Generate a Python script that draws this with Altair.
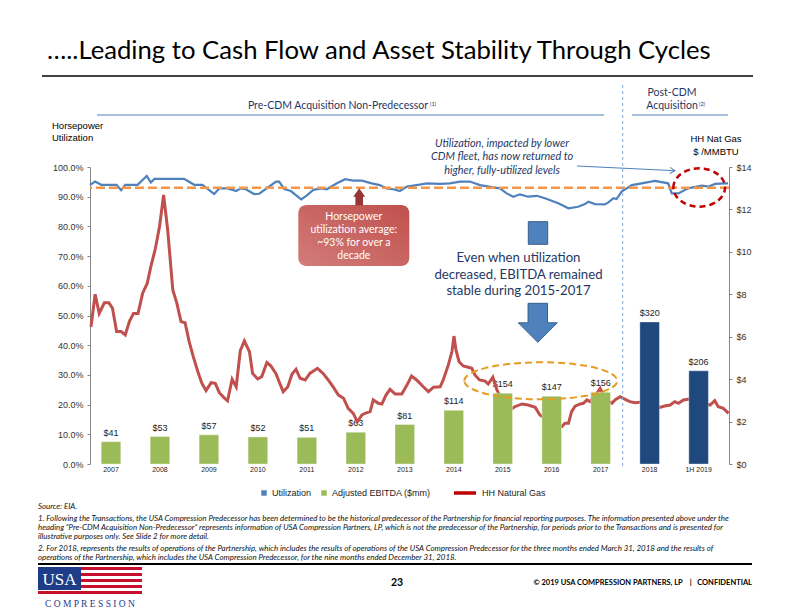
import altair as alt
import pandas as pd

# ---------------- data ----------------
years = ["2007", "2008", "2009", "2010", "2011", "2012", "2013", "2014",
         "2015", "2016", "2017", "2018", "1H 2019"]
ebitda = [41, 53, 57, 52, 51, 63, 81, 114, 154, 147, 156, 320, 206]
period = ["pre"] * 11 + ["post"] * 2

util_t = [2007.00, 2007.10, 2007.22, 2007.52, 2007.61, 2007.69, 2007.93,
          2008.11, 2008.19, 2008.26, 2008.84,
          2009.04, 2009.20, 2009.43, 2009.53, 2009.69, 2009.86, 2009.95,
          2010.05, 2010.21, 2010.31, 2010.48, 2010.64, 2010.70, 2010.80, 2010.93,
          2011.13, 2011.23, 2011.37, 2011.53, 2011.63, 2011.83, 2011.99,
          2012.15, 2012.32, 2012.51, 2012.67, 2012.80, 2012.93,
          2013.06, 2013.20, 2013.39, 2013.59, 2013.85,
          2014.04, 2014.24, 2014.43, 2014.63, 2014.86,
          2015.02, 2015.15, 2015.28, 2015.41, 2015.57, 2015.74, 2015.90,
          2016.16, 2016.36, 2016.55, 2016.68, 2016.75, 2016.88,
          2017.07, 2017.14, 2017.24, 2017.30, 2017.40, 2017.60, 2017.79,
          2018.05, 2018.31, 2018.38, 2018.51, 2018.70, 2018.97,
          2019.10, 2019.23, 2019.42, 2019.48]
util_v = [94.0, 95.1, 94.0, 94.0, 92.2, 94.0, 94.0,
          97.0, 94.8, 96.0, 96.0,
          94.0, 94.0, 90.9, 92.8, 92.8, 91.9, 92.8,
          92.5, 90.9, 91.0, 93.1, 95.1, 95.1, 92.6, 91.9,
          89.1, 90.3, 92.3, 92.8, 92.5, 94.5, 95.9,
          95.4, 95.4, 94.5, 93.9, 92.8, 92.5,
          91.9, 93.4, 93.9, 94.5, 94.3,
          94.5, 95.1, 95.1, 93.9, 93.2,
          92.8, 91.1, 90.0, 90.8, 90.0, 90.3, 89.5,
          87.8, 86.1, 86.6, 87.5, 88.3, 87.5,
          87.4, 88.1, 89.5, 89.2, 91.7, 93.9, 94.5,
          95.3, 94.5, 91.1, 91.1, 92.8, 93.7,
          93.4, 94.3, 94.5, 94.5]

gas_t = [2007.02, 2007.10, 2007.18, 2007.28, 2007.37, 2007.44, 2007.52, 2007.61,
         2007.69, 2007.77, 2007.85, 2007.94,
         2008.03, 2008.12, 2008.19, 2008.28, 2008.36, 2008.44, 2008.52, 2008.62,
         2008.70, 2008.78, 2008.86, 2008.94,
         2009.02, 2009.11, 2009.19, 2009.27, 2009.37, 2009.45, 2009.53, 2009.62,
         2009.69, 2009.78, 2009.86, 2009.94,
         2010.02, 2010.12, 2010.18, 2010.28, 2010.36, 2010.46, 2010.54, 2010.64,
         2010.70, 2010.78, 2010.87, 2010.95,
         2011.03, 2011.11, 2011.21, 2011.30, 2011.45, 2011.56, 2011.66, 2011.76,
         2011.86, 2011.96,
         2012.05, 2012.15, 2012.23, 2012.32, 2012.38, 2012.48, 2012.54, 2012.64,
         2012.71, 2012.79, 2012.87, 2012.97,
         2013.10, 2013.20, 2013.29, 2013.39, 2013.52, 2013.62, 2013.72, 2013.85,
         2013.91,
         2014.01, 2014.08, 2014.12, 2014.16, 2014.22, 2014.30, 2014.40, 2014.47,
         2014.53, 2014.62, 2014.73, 2014.79, 2014.88, 2014.96,
         2015.02, 2015.12, 2015.22, 2015.31, 2015.45, 2015.57, 2015.71, 2015.80,
         2016.00, 2016.12, 2016.23, 2016.29, 2016.36, 2016.42, 2016.49, 2016.59,
         2016.65, 2016.72, 2016.78, 2016.88, 2016.98,
         2017.07, 2017.21, 2017.27, 2017.37, 2017.47, 2017.56, 2017.66, 2017.90,
         2018.05, 2018.15, 2018.24, 2018.35, 2018.44, 2018.51, 2018.61, 2018.70,
         2018.89,
         2019.02, 2019.13, 2019.22, 2019.29, 2019.39, 2019.49]
gas_v = [6.47, 8.00, 7.10, 7.60, 7.60, 7.34, 6.24, 6.24,
         6.08, 6.71, 7.10, 7.10,
         8.05, 8.52, 9.30, 10.17, 11.19, 12.68, 11.03, 8.20,
         7.57, 6.71, 6.66, 5.77,
         5.06, 4.35, 3.80, 3.46, 3.83, 3.80, 3.36, 3.13,
         2.98, 3.99, 3.64, 5.34,
         5.80, 5.29, 4.27, 4.01, 4.12, 4.78, 4.62, 4.24,
         3.88, 3.41, 3.64, 4.23,
         4.46, 4.04, 3.96, 4.27, 4.51, 4.27, 3.96, 3.62,
         3.25, 3.10,
         2.62, 2.39, 1.99, 2.31, 2.39, 2.47, 3.02, 2.86,
         2.83, 3.25, 3.52, 3.30,
         3.30, 3.72, 4.15, 3.96, 3.64, 3.41, 3.62, 3.64,
         3.96,
         4.67, 5.29, 6.03, 5.37, 4.82, 4.62, 4.56, 4.51,
         4.20, 3.96, 3.91, 3.77, 4.09, 3.49,
         3.21, 2.94, 2.55, 2.70, 2.83, 2.78, 2.67, 2.31,
         2.00, 1.80, 1.76, 1.92, 1.92, 2.47, 2.73, 2.83,
         2.86, 3.02, 2.94, 3.20, 3.57,
         3.10, 2.86, 3.02, 3.17, 3.05, 2.94, 2.89, 2.95,
         2.75, 2.67, 2.73, 2.78, 2.94, 2.86, 3.02, 3.05,
         3.10,
         2.85, 2.78, 2.99, 2.70, 2.62, 2.39]

util_avg = 93

footnotes = [
    "Source: EIA.",
    "1.  Following the Transactions, the USA Compression Predecessor has been determined to be the historical predecessor of the Partnership for financial reporting purposes. The information presented above under the",
    "heading \u201cPre-CDM Acquisition Non-Predecessor\u201d represents information of USA Compression Partners, LP, which is not the predecessor of the Partnership, for periods prior to the Transactions and is presented for",
    "illustrative purposes only. See Slide 2 for more detail.",
    "2.  For 2018, represents the results of operations of the Partnership, which includes the results of operations of the USA Compression Predecessor for the three months ended March 31, 2018 and the results of",
    "operations of the Partnership, which includes the USA Compression Predecessor, for the nine months ended December 31, 2018.",
]

# ---------------- layout helpers ----------------
OX, OY = 90, 167          # absolute position of plot origin on the page
W, H = 639, 297
one = alt.Data(values=[{"k": 0}])
CAL = "Lato"
ARIAL = "Liberation Sans"
NAVY = "#1F3864"
NB = "\u00a0"


def px(X):
    return X - OX


def py(Y):
    return Y - OY


def text(s, X, Y, size, color="#000000", font=CAL, align="center",
         weight="normal", style="normal", lh=None, baseline="middle"):
    kw = dict(text=s, align=align, baseline=baseline, fontSize=size, font=font,
              color=color, fontWeight=weight, fontStyle=style)
    if lh:
        kw["lineHeight"] = lh
    return alt.Chart(one).mark_text(**kw).encode(x=alt.value(px(X)), y=alt.value(py(Y)))


def seg(X1, Y1, X2, Y2, color, width, dash=None):
    kw = dict(color=color, strokeWidth=width)
    if dash:
        kw["strokeDash"] = dash
    return alt.Chart(one).mark_rule(**kw).encode(
        x=alt.value(px(X1)), y=alt.value(py(Y1)),
        x2=alt.value(px(X2)), y2=alt.value(py(Y2)))


def box(X1, Y1, X2, Y2, color, stroke=None, radius=0, sw=1):
    kw = dict(color=color, cornerRadius=radius, opacity=1)
    if stroke:
        kw["stroke"] = stroke
        kw["strokeWidth"] = sw
    return alt.Chart(one).mark_rect(**kw).encode(
        x=alt.value(px(X1)), x2=alt.value(px(X2)),
        y=alt.value(py(Y1)), y2=alt.value(py(Y2)))


def symbol(path, X, Y, size, fill=None, stroke=None, sw=1, dash=None, angle=0):
    kw = dict(shape=path, size=size, opacity=1, angle=angle)
    if fill:
        kw["filled"] = True
        kw["fill"] = fill
    else:
        kw["filled"] = False
        kw["fill"] = "transparent"
    if stroke:
        kw["stroke"] = stroke
        kw["strokeWidth"] = sw
    if dash:
        kw["strokeDash"] = dash
    return alt.Chart(one).mark_point(**kw).encode(x=alt.value(px(X)), y=alt.value(py(Y)))


# ---------------- chart layers ----------------
bars_df = pd.DataFrame({"year": years, "ebitda": ebitda, "period": period})
util_df = pd.DataFrame({"t": util_t, "u": util_v})
gas_df = pd.DataFrame({"t": gas_t, "g": gas_v})

band = alt.Scale(range=[px(86.5), px(723.1)], paddingInner=0.6, paddingOuter=0.3)
yb_scale = alt.Scale(domain=[-11, 681], nice=False, zero=False)
xt = alt.X("t:Q", scale=alt.Scale(domain=[2007, 2019.5], nice=False, zero=False), axis=None)

bar_labels = alt.Chart(bars_df).transform_calculate(
    label="'$' + datum.ebitda"
).mark_text(dy=-9, fontSize=9, font=ARIAL, color="#222222").encode(
    x=alt.X("year:N", sort=years, scale=band, axis=None),
    y=alt.Y("ebitda:Q", scale=yb_scale, axis=None),
    text="label:N",
)

gas = alt.Chart(gas_df).mark_line(color="#C0504D", strokeWidth=3).encode(
    x=xt,
    y=alt.Y("g:Q", scale=alt.Scale(domain=[0, 14], nice=False),
            axis=alt.Axis(orient="right", values=list(range(0, 15, 2)),
                          labelExpr="'$' + datum.value", title=None, grid=False,
                          domainColor="#868686", tickColor="#868686", tickSize=3,
                          labelFont=ARIAL, labelFontSize=9, labelColor="#333333",
                          labelPadding=4)),
)

bars = alt.Chart(bars_df).mark_bar(stroke="#FFFFFF", strokeOpacity=0.35, strokeWidth=1).encode(
    x=alt.X("year:N", sort=years, scale=band,
            axis=alt.Axis(orient="bottom", title=None, domain=False, ticks=False,
                          labelAngle=0, labelFont=ARIAL, labelFontSize=7,
                          labelColor="#222222", labelPadding=1)),
    y=alt.Y("ebitda:Q", scale=yb_scale, axis=None),
    y2=alt.datum(-11),
    color=alt.Color("period:N", scale=alt.Scale(domain=["pre", "post"],
                                                range=["#9BBB59", "#1F497D"]), legend=None),
)

util = alt.Chart(util_df).mark_line(color="#4F81BD", strokeWidth=2.2).encode(
    x=xt,
    y=alt.Y("u:Q", scale=alt.Scale(domain=[0, 100], nice=False),
            axis=alt.Axis(orient="left", values=list(range(0, 101, 10)),
                          labelExpr="format(datum.value, '.1f') + '%'", title=None,
                          grid=False, domainColor="#868686", tickColor="#868686",
                          tickSize=3, labelFont=ARIAL, labelFontSize=9,
                          labelColor="#333333", labelPadding=4)),
)

avg = alt.Chart(one).mark_rule(color="#F79646", strokeWidth=2.5, strokeDash=[9, 4]).encode(
    y=alt.Y(datum=util_avg, scale=alt.Scale(domain=[0, 100], nice=False), axis=None)
)

# ---------------- annotations ----------------
ann = []
# title + rule
ann.append(text("\u2026..Leading to Cash Flow and Asset Stability Through Cycles",
                47, 51, 25.7, align="left"))
ann.append(seg(42, 76, 753, 76, "#404040", 2))

# period headers
ann.append(text("Pre-CDM Acquisition Non-Predecessor", 338, 106, 10.5, color=NAVY))
ann.append(text("(1)", 433, 104, 5.5, color=NAVY))
ann.append(seg(97, 115, 604, 115, "#4F81BD", 1))
ann.append(text(["Post-CDM", "Acquisition"], 672, 92.5, 10.5, color=NAVY, lh=13))
ann.append(text("(2)", 702, 104, 5.5, color=NAVY))
ann.append(seg(632, 115, 728, 115, "#4F81BD", 1))
ann.append(seg(622.7, 85, 622.7, 466, "#7FA7D6", 1, dash=[3, 3]))

# axis titles
ann.append(text(["Horsepower", "Utilization"], 52, 125.7, 9.5, font=ARIAL, align="left", lh=12.6))
ann.append(text(["HH Nat Gas", "$ /MMBTU"], 716, 139, 9.5, font=ARIAL, lh=12.7))

# italic note + arrow
ann.append(text(["Utilization, impacted by lower", "CDM fleet, has now returned to",
                 "higher, fully-utilized levels"], 502, 143.5, 10.9, color=NAVY,
                style="italic", lh=13.7))
ann.append(seg(577, 166, 675, 170.7, "#4F81BD", 1))
ann.append(symbol("M -1 -0.6 L 0 0 L -1 0.6", 675, 170.7, 100, stroke="#4F81BD", sw=1, angle=3))

# red dashed ellipse
ann.append(symbol("M -1 0 A 1 0.74 0 1 1 1 0 A 1 0.74 0 1 1 -1 0 Z", 699.2, 187.5, 2673,
                  stroke="#C00000", sw=2.5, dash=[6, 4]))
# orange dashed ellipse
ann.append(symbol("M -1 0 A 1 0.242 0 1 1 1 0 A 1 0.242 0 1 1 -1 0 Z", 540.8, 380.8, 23409,
                  stroke="#E69B22", sw=2, dash=[7, 4]))

# red rounded box with up arrow
grad = alt.Gradient(gradient="linear",
                    stops=[alt.GradientStop(color="#D27C79", offset=0),
                           alt.GradientStop(color="#C0504D", offset=1)],
                    x1=0, x2=1, y1=1, y2=0)
ann.append(box(298.3, 205, 409.3, 266, grad, radius=8))
ann.append(text(["Horsepower", "utilization average:", "~93% for over a", "decade"],
                353.8, 216.7, 10.5, color="#FFFFFF", lh=13.1))
ann.append(symbol("M 0 -1 L 0.7 0 L 0.45 0 L 0.45 1 L -0.45 1 L -0.45 0 L -0.7 0 Z",
                  359.2, 196.7, 289, fill="#953735"))

# blue block + down arrow + message
ann.append(box(528.3, 221.7, 547.7, 244.3, "#4F81BD", stroke="#385D8A", sw=1))
ann.append(text(["Even when utilization", "decreased, EBITDA remained", "stable during 2015-2017"],
                518.5, 258, 13.2, color=NAVY, lh=16.6))
ann.append(symbol("M -0.5 -1 L 0.5 -1 L 0.5 0 L 1 0 L 0 1 L -1 0 L -0.5 0 Z",
                  537.8, 322.8, 1521, fill="#4F81BD", stroke="#385D8A", sw=1))

# legend
ann.append(symbol("square", 264, 493, 30, fill="#4F81BD"))
ann.append(text("Utilization", 272, 493, 9, font=ARIAL, align="left", color="#222222"))
ann.append(symbol("square", 324, 493, 30, fill="#9BBB59"))
ann.append(text("Adjusted EBITDA ($mm)", 332, 493, 9, font=ARIAL, align="left", color="#222222"))
ann.append(seg(454, 493, 476, 493, "#C00000", 3.5))
ann.append(text("HH Natural Gas", 482, 493, 9, font=ARIAL, align="left", color="#222222"))

# footnotes
fn_y = [507, 519, 528, 537, 548.5, 557.5]
for s, yy in zip(footnotes, fn_y):
    ann.append(text(s, 38, yy, 7.9, align="left", style="italic", color="#111111"))

# footer
ann.append(seg(38, 564, 752, 564, "#000000", 2))
ann.append(box(38, 567, 81, 590, "#1F3C88"))
ann.append(text("USA", 59.5, 579.5, 17, font="Liberation Serif", color="#FFFFFF"))
for yy in [568.5, 574.5, 580.5, 586.5]:
    ann.append(seg(81, yy, 142, yy, "#C8102E", 3))
ann.append(seg(38, 592.5, 142, 592.5, "#C8102E", 3))
ann.append(text("C O M P R E S S I O N", 90, 604, 9.5, font="Liberation Serif", color="#1F3C88"))
ann.append(text("23", 397, 583, 10.5, weight="bold"))
ann.append(text("\u00a9 2019 USA COMPRESSION PARTNERS, LP" + NB * 4 + "|" + NB * 3 + "CONFIDENTIAL",
                752, 583, 7.5, weight="bold", align="right"))

chart = alt.layer(bar_labels, gas, bars, util, avg, *ann).resolve_scale(
    x="independent", y="independent"
).properties(
    width=W, height=H,
    autosize=alt.AutoSizeParams(type="none"),
    padding={"left": OX - 8, "top": OY - 8, "right": 55, "bottom": 146},
).configure_view(stroke=None)

chart.save("out.html", embed_options={"renderer": "svg", "actions": False})
